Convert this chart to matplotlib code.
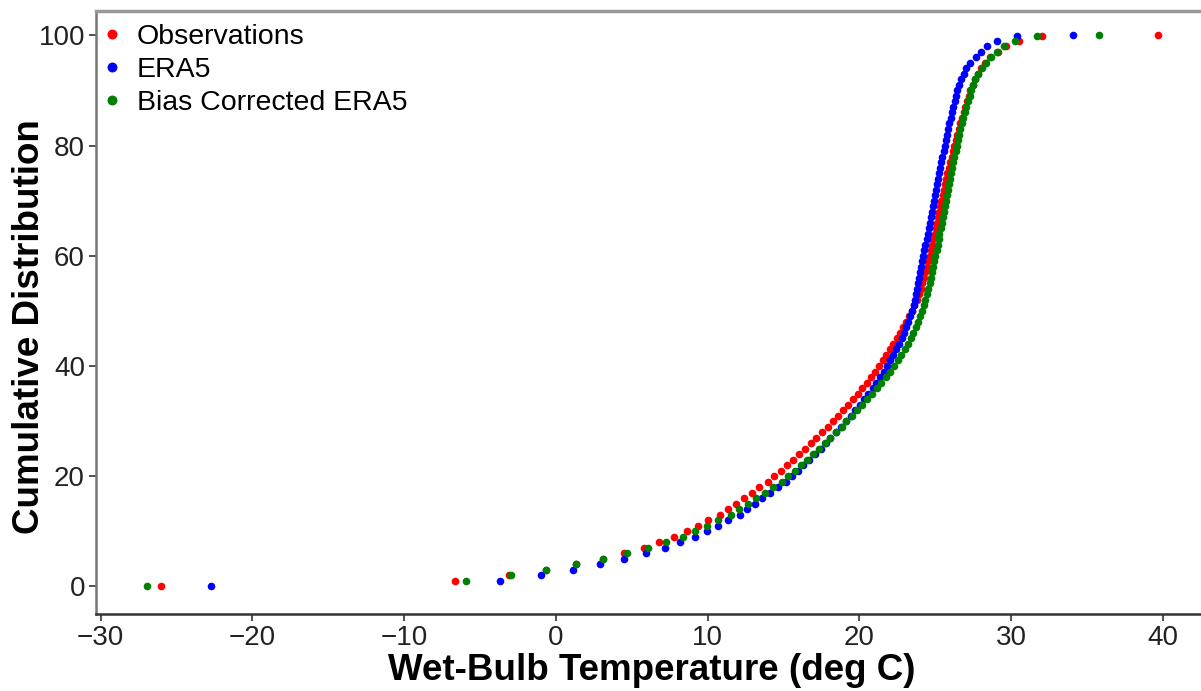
import matplotlib
matplotlib.use("Agg")
import matplotlib.pyplot as plt

plt.rcParams['font.family'] = ['Liberation Sans', 'DejaVu Sans']

percentiles = list(range(0, 100)) + [99.9, 100]

observations = [
    -26.04, -6.63, -3.09, -0.63, 1.35, 3.07, 4.50, 5.82, 6.79, 7.80,
    8.61, 9.38, 10.05, 10.81, 11.32, 11.85, 12.36, 12.90, 13.41, 13.96,
    14.40, 14.82, 15.21, 15.61, 16.03, 16.43, 16.80, 17.13, 17.52, 17.90,
    18.23, 18.58, 18.92, 19.25, 19.57, 19.88, 20.18, 20.47, 20.75, 21.02,
    21.28, 21.53, 21.77, 22.00, 22.22, 22.45, 22.67, 22.88, 23.08, 23.27,
    23.45, 23.62, 23.77, 23.91, 24.03, 24.14, 24.25, 24.35, 24.45, 24.54,
    24.63, 24.71, 24.79, 24.87, 24.95, 25.03, 25.10, 25.17, 25.24, 25.32,
    25.40, 25.48, 25.56, 25.64, 25.72, 25.80, 25.89, 25.98, 26.07, 26.16,
    26.25, 26.35, 26.45, 26.55, 26.65, 26.75, 26.86, 26.97, 27.08, 27.19,
    27.30, 27.45, 27.62, 27.82, 28.04, 28.30, 28.62, 29.15, 29.65, 30.53,
    32.00, 39.64,
]

era5 = [
    -22.74, -3.71, -0.98, 1.13, 2.89, 4.48, 5.91, 7.18, 8.17, 9.16,
    9.93, 10.70, 11.36, 12.11, 12.60, 13.11, 13.60, 14.12, 14.61, 15.14,
    15.56, 15.95, 16.31, 16.68, 17.07, 17.44, 17.78, 18.08, 18.44, 18.79,
    19.09, 19.41, 19.72, 20.02, 20.31, 20.59, 20.86, 21.12, 21.37, 21.61,
    21.84, 22.04, 22.24, 22.43, 22.61, 22.78, 22.94, 23.09, 23.23, 23.36,
    23.48, 23.58, 23.67, 23.75, 23.82, 23.89, 23.95, 24.02, 24.08, 24.15,
    24.21, 24.28, 24.35, 24.42, 24.49, 24.56, 24.63, 24.70, 24.77, 24.84,
    24.91, 24.98, 25.05, 25.12, 25.19, 25.26, 25.33, 25.40, 25.47, 25.54,
    25.61, 25.69, 25.77, 25.85, 25.93, 26.01, 26.09, 26.18, 26.27, 26.35,
    26.44, 26.54, 26.71, 26.87, 27.05, 27.31, 27.65, 27.98, 28.42, 29.08,
    30.40, 34.09,
]

bias_corrected = [
    -26.96, -5.93, -2.94, -0.63, 1.35, 3.07, 4.70, 6.06, 7.25, 8.35,
    9.16, 9.98, 10.70, 11.51, 12.07, 12.65, 13.20, 13.77, 14.30, 14.87,
    15.32, 15.75, 16.14, 16.54, 16.96, 17.36, 17.73, 18.06, 18.45, 18.83,
    19.13, 19.50, 19.85, 20.19, 20.52, 20.84, 21.15, 21.45, 21.74, 22.02,
    22.28, 22.52, 22.75, 22.97, 23.18, 23.37, 23.55, 23.71, 23.85, 23.98,
    24.10, 24.22, 24.33, 24.43, 24.53, 24.62, 24.71, 24.79, 24.87, 24.94,
    25.01, 25.08, 25.15, 25.21, 25.27, 25.34, 25.41, 25.48, 25.55, 25.62,
    25.69, 25.77, 25.84, 25.91, 25.98, 26.05, 26.12, 26.19, 26.26, 26.33,
    26.40, 26.48, 26.56, 26.65, 26.74, 26.84, 26.94, 27.04, 27.15, 27.26,
    27.35, 27.48, 27.64, 27.84, 28.06, 28.33, 28.64, 29.05, 29.52, 30.24,
    31.72, 35.78,
]

series_labels = ["Observations", "ERA5", "Bias Corrected ERA5"]
series_colors = ["red", "blue", "green"]
xticks = [-30, -20, -10, 0, 10, 20, 30, 40]
yticks = [0, 20, 40, 60, 80, 100]

fig = plt.figure(figsize=(12.01, 6.91), dpi=100)
ax = fig.add_axes([0.080, 0.1114, 0.925, 0.8734])

for vals, lab, col in zip([observations, era5, bias_corrected], series_labels, series_colors):
    ax.plot(vals, percentiles, linestyle="none", marker="o", markersize=5.5,
            markeredgewidth=0, color=col, label=lab)

ax.set_xlim(-30.3, 42.9)
ax.set_ylim(-5, 104.5)
ax.set_xticks(xticks)
ax.set_yticks(yticks)
ax.tick_params(axis="both", labelsize=20, length=5, width=1.2, colors="#333333",
               labelcolor="#222222", direction="out", pad=3)

ax.spines["right"].set_visible(False)
ax.spines["top"].set_color("#999999")
ax.spines["top"].set_linewidth(2.5)
ax.spines["left"].set_color("#777777")
ax.spines["left"].set_linewidth(1.8)
ax.spines["bottom"].set_color("#333333")
ax.spines["bottom"].set_linewidth(1.8)

ax.set_xlabel("Wet-Bulb Temperature (deg C)", fontsize=26.5, fontweight="bold", labelpad=1.5)
ax.set_ylabel("Cumulative Distribution", fontsize=26.5, fontweight="bold", labelpad=-6)
ax.yaxis.label.set_y(0.477)

ax.legend(loc="upper left", bbox_to_anchor=(-0.0045, 0.992), frameon=False,
          fontsize=20.5, handletextpad=0.4, handlelength=0.9, labelspacing=0.25,
          borderaxespad=0.2, borderpad=0.1, markerscale=1.3)

fig.savefig("out.png", dpi=100)
